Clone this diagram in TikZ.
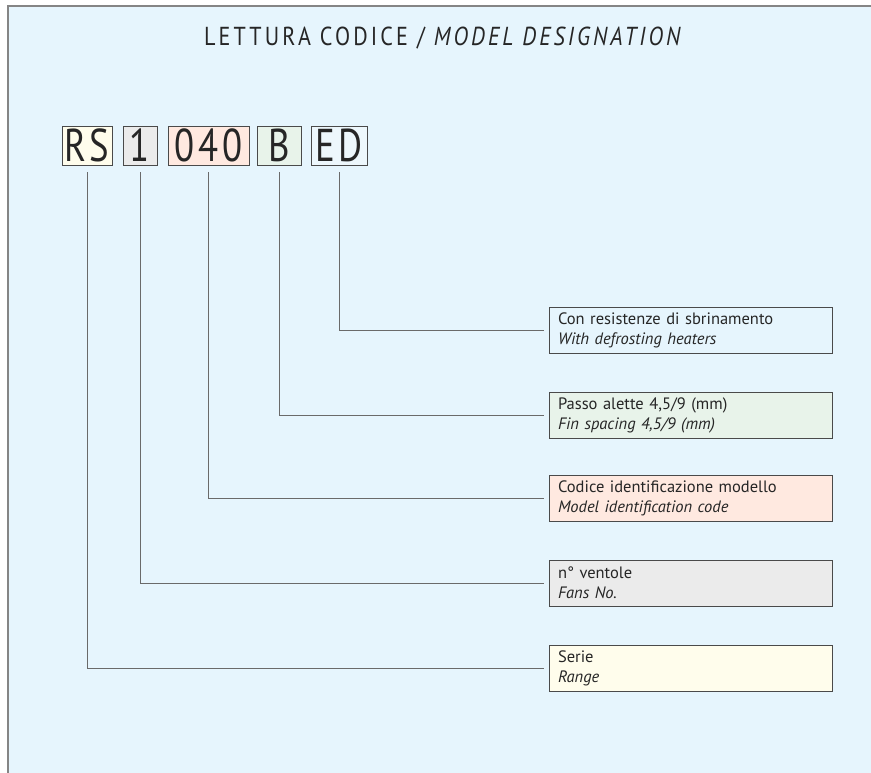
\documentclass[tikz,border=0pt]{standalone}
\usepackage{fontspec}
\setmainfont{PT Sans}
\newfontfamily\titlefont[LetterSpace=12,FakeStretch=0.85]{PT Sans}
\newfontfamily\codefont[LetterSpace=8,FakeStretch=0.8]{PT Sans}
\usetikzlibrary{calc}
\definecolor{bg}{HTML}{E6F5FD}
\definecolor{framec}{HTML}{858585}
\definecolor{boxline}{HTML}{4A4A4A}
\definecolor{linec}{HTML}{6A6A6A}
\definecolor{cyellow}{HTML}{FFFDEC}
\definecolor{cgrey}{HTML}{EBEBEB}
\definecolor{csalmon}{HTML}{FFE9E0}
\definecolor{cgreen}{HTML}{E8F3EA}
\definecolor{cblue}{HTML}{EDF7FC}
\tikzset{
  codebox/.style={draw=boxline, line width=0.9pt, minimum height=39pt, inner sep=0pt,
    font=\codefont\fontsize{46}{46}\selectfont, text=black!85},
  descbox/.style={draw=boxline, line width=0.9pt, minimum height=46pt, text width=265pt,
    inner xsep=9pt, inner ysep=0pt, align=left, font=\fontsize{16.5}{20}\selectfont, text=black!85},
  conn/.style={draw=linec, line width=0.9pt, shorten <=7pt, shorten >=5pt}
}
\begin{document}
\begin{tikzpicture}[x=1pt,y=-1pt]
\useasboundingbox (0,0) rectangle (871,773);
\fill[white] (0,0) rectangle (871,773);
\fill[bg] (8,6) rectangle (871,773);
\draw[framec, line width=1.5pt] (8,773) -- (8,6) -- (871,6);
\node[anchor=base, font=\titlefont\fontsize{26}{26}\selectfont, text=black!85] (title) at (444,46)
  {LETTURA CODICE / \textit{MODEL DESIGNATION}};
% code boxes
\node[codebox, fill=cyellow, minimum width=50pt] (rs) at (87,145.5) {RS};
\node[codebox, fill=cgrey, minimum width=34pt] (one) at (140,145.5) {1};
\node[codebox, fill=csalmon, minimum width=81pt] (zfz) at (208.5,145.5) {040};
\node[codebox, fill=cgreen, minimum width=44pt] (b) at (279,145.5) {B};
\node[codebox, fill=cblue, minimum width=56pt] (ed) at (339,145.5) {ED};
% description boxes
\node[descbox, fill=bg] (ded) at (690.5,330) {Con resistenze di sbrinamento\\\textit{With defrosting heaters}};
\node[descbox, fill=cgreen] (db) at (690.5,415) {Passo alette 4,5/9 (mm)\\\textit{Fin spacing 4,5/9 (mm)}};
\node[descbox, fill=csalmon] (dzfz) at (690.5,498.5) {Codice identificazione modello\\\textit{Model identification code}};
\node[descbox, fill=cgrey] (done) at (690.5,583) {n° ventole\\\textit{Fans No.}};
\node[descbox, fill=cyellow] (drs) at (690.5,668.5) {Serie\\\textit{Range}};
% connectors
\draw[conn] (ed.south) |- (ded.west);
\draw[conn] (b.south) |- (db.west);
\draw[conn] (zfz.south) |- (dzfz.west);
\draw[conn] (one.south) |- (done.west);
\draw[conn] (rs.south) |- (drs.west);
\end{tikzpicture}
\end{document}
